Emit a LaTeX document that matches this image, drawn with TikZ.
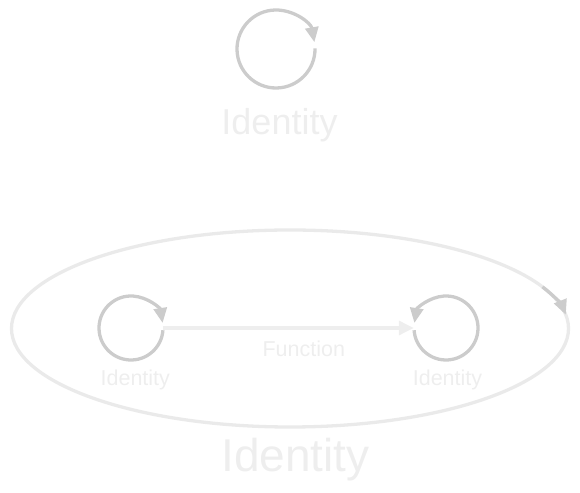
\documentclass[tikz,border=0pt]{standalone}
\usepackage{fontspec}
\setmainfont{Liberation Sans}
\usetikzlibrary{arrows.meta}
\definecolor{loopgray}{HTML}{CCCCCC}
\definecolor{faint}{HTML}{EEEEEE}
\definecolor{ellgray}{HTML}{EAEAEA}
\tikzset{
  loopline/.style={draw=loopgray, line width=3.3pt, -{Triangle[length=15pt,width=13pt]}},
  fnline/.style={draw=faint, line width=3.3pt, -{Triangle[length=15pt,width=14pt,fill=faint]}},
  obj/.style={circle, inner sep=0pt, minimum size=#1},
  lbl/.style={text=faint, anchor=base, inner sep=0pt}
}
\begin{document}
\begin{tikzpicture}[x=1pt,y=1pt]
\useasboundingbox (0,0) rectangle (580,492);
% objects
\node[obj=78pt] (T) at (276,443) {};
\node[obj=64pt] (L) at (131,164) {};
\node[obj=64pt] (R) at (446,164) {};
\coordinate (E) at (290,163.5);
% big ellipse
\draw[ellgray, line width=3.3pt] (E) ellipse [x radius=278.5, y radius=98.5];
\draw[loopline] (E) ++(25:278.5 and 98.5) arc[start angle=25, end angle=8, x radius=278.5, y radius=98.5];
% loops
\draw[loopline] (T.center) ++(1:39) arc[start angle=1, end angle=-350, radius=39];
\draw[loopline] (L.center) ++(-4:32) arc[start angle=-4, end angle=-351, radius=32];
\draw[loopline] (R.center) ++(184:32) arc[start angle=184, end angle=531, radius=32];
% function edge
\draw[fnline] (L.east) -- (R.west);
% labels
\node[lbl, font=\fontsize{36}{36}\selectfont] (tl) at (279.5,357) {Identity};
\node[lbl, font=\fontsize{46}{46}\selectfont] (bl) at (295.5,20) {Identity};
\node[lbl, font=\fontsize{21.5}{21.5}\selectfont] (ll) at (135.3,106) {Identity};
\node[lbl, font=\fontsize{21.5}{21.5}\selectfont] (rl) at (447.5,106) {Identity};
\node[lbl, font=\fontsize{21.5}{21.5}\selectfont] (fl) at (303.8,135.3) {Function};
\end{tikzpicture}
\end{document}
